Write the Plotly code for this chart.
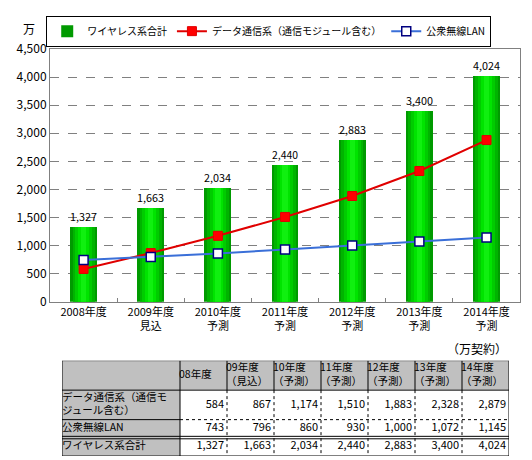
import numpy as np
import plotly.graph_objects as go

years = ["2008年度", "2009年度<br>見込", "2010年度<br>予測", "2011年度<br>予測",
         "2012年度<br>予測", "2013年度<br>予測", "2014年度<br>予測"]
table_head = ["08年度", "09年度<br>（見込）", "10年度<br>（予測）", "11年度<br>（予測）",
              "12年度<br>（予測）", "13年度<br>（予測）", "14年度<br>（予測）"]
data_comm = [584, 867, 1174, 1510, 1883, 2328, 2879]
public_lan = [743, 796, 860, 930, 1000, 1072, 1145]
wireless_total = [1327, 1663, 2034, 2440, 2883, 3400, 4024]
row_names = ["データ通信系（通信モ<br>ジュール含む）", "公衆無線LAN", "ワイヤレス系合計"]

FONT = "Noto Sans CJK JP"

fig = go.Figure()

# gradient bars: overlaid bars, dark at the edges, bright in the middle
shades = [(0.40, "#009a00"), (0.33, "#00b400"), (0.25, "#00cc00"), (0.16, "#00e400"), (0.08, "#10f010")]
for i, (w, c) in enumerate(shades):
    fig.add_trace(go.Bar(
        x=years, y=wireless_total, width=w, marker=dict(color=c, line_width=0),
        name="ワイヤレス系合計", showlegend=(i == 0), legendrank=1,
        text=[f"{v:,}" for v in wireless_total] if i == 0 else None,
        textposition="outside", cliponaxis=False,
        textfont=dict(size=11, color="black"),
        hoverinfo="skip" if i else None,
    ))

fig.add_trace(go.Scatter(
    x=years, y=data_comm, mode="lines+markers", name="データ通信系（通信モジュール含む）",
    line=dict(color="#e00000", width=2), legendrank=2,
    marker=dict(symbol="square", size=9, color="#ff0000", line=dict(color="#e00000", width=1)),
))
fig.add_trace(go.Scatter(
    x=years, y=public_lan, mode="lines+markers", name="公衆無線LAN",
    line=dict(color="#3a6fd8", width=2), legendrank=3,
    marker=dict(symbol="square", size=9, color="white", line=dict(color="#000080", width=1.5)),
))

# --- data table drawn on its own axes (x2/y2), units = pixels ---
col_w = [118] + [47] * 7
row_h = [30, 30, 18, 19]
xe = np.concatenate([[0], np.cumsum(col_w)])
ye = np.concatenate([[0], np.cumsum(row_h)])
W, H = xe[-1], ye[-1]

fill = [[0] * 8] + [[0] + [1] * 7 for _ in range(3)]
fig.add_trace(go.Heatmap(
    x=xe, y=ye, z=fill, xaxis="x2", yaxis="y2",
    colorscale=[[0, "#c0c0c0"], [1, "#ffffff"]], showscale=False, hoverinfo="skip",
))

# text: header, row names, numbers
yc = (ye[:-1] + ye[1:]) / 2
fig.add_trace(go.Scatter(
    x=xe[1:-1] - 1, y=[yc[0]] * 7, text=table_head, mode="text", xaxis="x2", yaxis="y2",
    textposition="middle right", showlegend=False, hoverinfo="skip",
    textfont=dict(family=FONT, size=10.5, color="black"),
))
fig.add_trace(go.Scatter(
    x=[xe[0]] * 3, y=yc[1:], text=row_names, mode="text", xaxis="x2", yaxis="y2",
    textposition="middle right", showlegend=False, hoverinfo="skip",
    textfont=dict(family=FONT, size=10.5, color="black"),
))
for r, series in enumerate([data_comm, public_lan, wireless_total]):
    fig.add_trace(go.Scatter(
        x=xe[2:] - 3, y=[yc[r + 1]] * 7, text=[f"{v:,}" for v in series],
        mode="text", xaxis="x2", yaxis="y2",
        textposition="middle left", showlegend=False, hoverinfo="skip",
        textfont=dict(family=FONT, size=11, color="black"),
    ))

shapes = []
def seg(x0, y0, x1, y1, dash="solid"):
    shapes.append(dict(type="line", xref="x2", yref="y2", x0=x0, y0=y0, x1=x1, y1=y1,
                       line=dict(color="black", width=1, dash=dash)))

shapes.append(dict(type="rect", xref="x2", yref="y2", x0=0, y0=0, x1=W, y1=H,
                   line=dict(color="black", width=1)))
seg(0, ye[1], W, ye[1])
seg(0, ye[2], xe[1], ye[2])
seg(xe[1], ye[2], W, ye[2], "dot")
seg(0, ye[3] - 1, W, ye[3] - 1)
seg(0, ye[3] + 1.5, W, ye[3] + 1.5)
seg(xe[1], 0, xe[1], H)
for x in xe[2:-1]:
    seg(x, 0, x, ye[1])
    seg(x, ye[1], x, H, "dot")

fig.update_layout(
    width=532, height=460,
    margin=dict(l=42, r=18, t=41, b=5),
    paper_bgcolor="white", plot_bgcolor="white",
    font=dict(family=FONT, size=11, color="black"),
    barmode="overlay", bargap=0,
    showlegend=True,
    legend=dict(
        orientation="h", x=-0.008, y=1.082, xanchor="left", yanchor="top",
        bordercolor="black", borderwidth=1, bgcolor="white",
        font=dict(family=FONT, size=10), itemwidth=30,
        traceorder="normal", tracegroupgap=0,
    ),
    xaxis=dict(
        domain=[0, 0.996], showline=True, linecolor="#808080", mirror=True,
        ticks="inside", tickson="boundaries", ticklen=4, tickcolor="#808080",
        tickfont=dict(size=11), showgrid=False,
    ),
    yaxis=dict(
        domain=[0.379, 1.0], range=[0, 4500], dtick=500, tickformat=",",
        showline=True, linecolor="#808080", mirror=True,
        showgrid=True, gridcolor="#808080", griddash="dash", gridwidth=1,
        tickfont=dict(size=12), ticks="", zeroline=False,
    ),
    xaxis2=dict(domain=[12 / 472, (12 + W) / 472], range=[0, W], visible=False,
                fixedrange=True),
    yaxis2=dict(domain=[0, H / 414], range=[H, 0], visible=False, fixedrange=True),
    shapes=shapes,
    annotations=[
        dict(text="万", x=-0.045, y=1.025, xref="paper", yref="paper",
             showarrow=False, font=dict(size=12), xanchor="center", yanchor="bottom"),
        dict(text="（万契約）", x=(12 + W) / 472, y=(455 - 346) / 414, xref="paper", yref="paper",
             showarrow=False, font=dict(size=12), xanchor="right", yanchor="middle"),
    ],
)

fig.write_html("out.html")
